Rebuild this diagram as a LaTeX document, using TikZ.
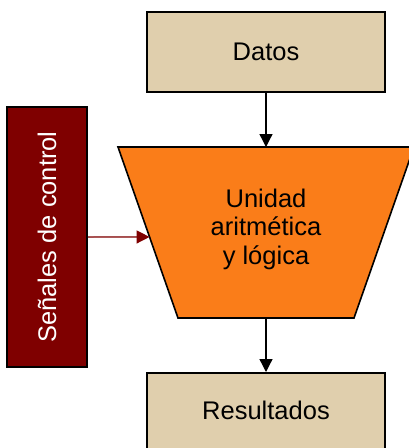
\documentclass[tikz,border=0pt]{standalone}
\usepackage{fontspec}
\setmainfont{Liberation Sans}
\usetikzlibrary{arrows.meta,calc}
\definecolor{tan}{HTML}{E0CFAD}
\definecolor{aluorange}{HTML}{FA7D19}
\definecolor{ctrlred}{HTML}{7F0000}
\begin{document}
\begin{tikzpicture}[x=1pt,y=-1pt,
  every node/.style={font=\fontsize{25.5}{28.5}\selectfont},
  box/.style={draw=black,line width=1.6pt,fill=tan,minimum width=238pt,inner sep=0pt},
  flow/.style={line width=1.3pt,-{Triangle[width=13pt,length=13pt]}},
]
\clip (0,0) rectangle (409,448);
% boxes
\node[box,minimum height=80pt] (datos) at (266,52) {Datos};
\node[box,minimum height=100pt,anchor=north] (res) at (266,372) {};
\node (restext) at (266,410) {Resultados};
% ALU trapezoid
\coordinate (tl) at (118,147);
\coordinate (tr) at (414,147);
\coordinate (br) at (354,318);
\coordinate (bl) at (178,318);
\draw[line width=1.6pt,fill=aluorange] (tl) -- (tr) -- (br) -- (bl) -- cycle;
\coordinate (alutop) at (266,147);
\coordinate (alubot) at (266,318);
\coordinate (aluleft) at ($(tl)!0.526!(bl)$);
\node[align=center] (alu) at (266,229) {Unidad\\aritmética\\y lógica};
% control signals
\node[draw=black,line width=1.6pt,fill=ctrlred,text=white,rotate=90,
      minimum width=260pt,minimum height=80pt,inner sep=0pt] (sen) at (47,237) {Señales de control};
% connectors
\draw[flow] (datos.south) -- (alutop);
\draw[flow] (alubot) -- (res.north);
\draw[flow,draw=ctrlred,fill=ctrlred] (sen.south) -- (aluleft);
\end{tikzpicture}
\end{document}
